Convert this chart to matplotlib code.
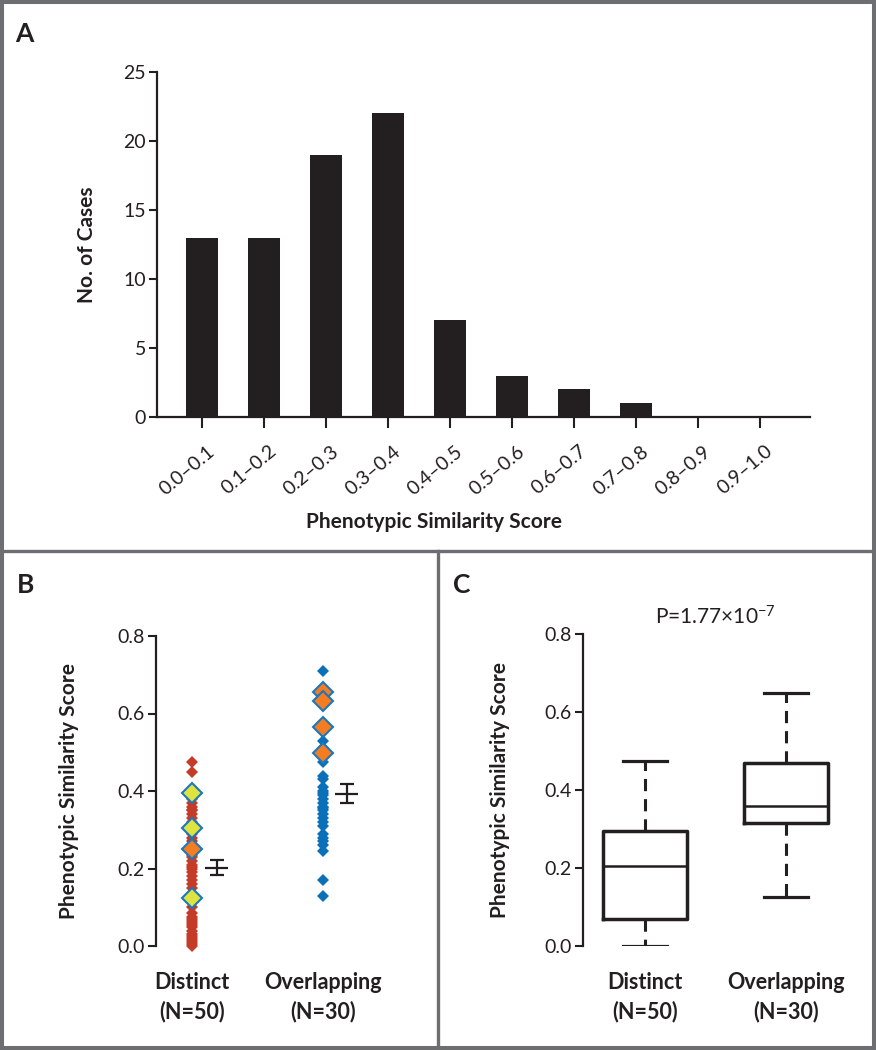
import matplotlib
matplotlib.use('Agg')
import matplotlib.pyplot as plt
import numpy as np
from matplotlib.lines import Line2D
from matplotlib.patches import Rectangle
from matplotlib.transforms import ScaledTranslation

plt.rcParams['font.family'] = ['Lato', 'DejaVu Sans']
plt.rcParams['mathtext.fontset'] = 'custom'
plt.rcParams['mathtext.rm'] = 'Lato'
plt.rcParams['mathtext.default'] = 'regular'

# ---------------- data ----------------
score_bins = ['0.0–0.1', '0.1–0.2', '0.2–0.3', '0.3–0.4', '0.4–0.5',
              '0.5–0.6', '0.6–0.7', '0.7–0.8', '0.8–0.9', '0.9–1.0']
case_counts = [13, 13, 19, 22, 7, 3, 2, 1, 0, 0]

group_labels = ['Distinct\n(N=50)', 'Overlapping\n(N=30)']

distinct_scores = [0.0, 0.005, 0.01, 0.015, 0.02, 0.025, 0.03, 0.04, 0.05, 0.055,
                   0.06, 0.065, 0.07, 0.075, 0.085, 0.10, 0.115, 0.125,
                   0.15, 0.16, 0.17, 0.18, 0.19, 0.20, 0.205, 0.21, 0.22,
                   0.23, 0.235, 0.24, 0.25, 0.26, 0.27, 0.28, 0.29, 0.30, 0.305, 0.31,
                   0.32, 0.33, 0.34, 0.35, 0.35, 0.36, 0.37, 0.38, 0.395, 0.40, 0.45, 0.475]
distinct_yellow = [0.395, 0.305, 0.125]
distinct_orange = [0.25]

overlapping_scores = [0.71, 0.655, 0.633, 0.565, 0.53, 0.51, 0.497, 0.475,
                      0.44, 0.43, 0.41, 0.40, 0.395, 0.39, 0.38, 0.37, 0.36, 0.355,
                      0.35, 0.34, 0.33, 0.32, 0.31, 0.29, 0.28, 0.27, 0.26, 0.245,
                      0.17, 0.13]
overlapping_orange = [0.655, 0.633, 0.565, 0.497]

box_whislo = [0.0, 0.125]
box_q1 = [0.07, 0.315]
box_med = [0.205, 0.36]
box_q3 = [0.295, 0.47]
box_whishi = [0.475, 0.65]
p_text = r'P=1.77×10$^{−7}$'

# ---------------- style ----------------
INK = '#231f20'
RED = '#c43b28'
BLUE = '#0a70b8'
ORANGE = '#f47d22'
YELLOW = '#dde33f'
EDGE = '#1c77bf'
FRAME = '#6d6e71'

W, H = 876, 1050
fig = plt.figure(figsize=(W / 100, H / 100), dpi=100)


def px_axes(l, t, r, b):
    return fig.add_axes([l / W, 1 - b / H, (r - l) / W, (b - t) / H])


def style_axes(ax, bottom=True):
    for s in ['top', 'right']:
        ax.spines[s].set_visible(False)
    ax.spines['left'].set_linewidth(1.6)
    ax.spines['left'].set_color(INK)
    if bottom:
        ax.spines['bottom'].set_linewidth(1.6)
        ax.spines['bottom'].set_color(INK)
    else:
        ax.spines['bottom'].set_visible(False)
    ax.tick_params(axis='y', direction='out', length=6, width=1.5, color=INK,
                   labelsize=14, labelcolor=INK, pad=2)


# ---------------- panel A ----------------
axA = px_axes(157, 72, 810, 417)
xA = np.arange(len(score_bins))
axA.bar(xA, case_counts, width=0.52, color=INK)
axA.set_xlim(-0.726, 9.806)
axA.set_ylim(0, 25)
style_axes(axA)
axA.set_yticks([0, 5, 10, 15, 20, 25])
axA.set_xticks(xA)
axA.set_xticklabels(score_bins, rotation=40, ha='right', va='center',
                    rotation_mode='anchor', fontsize=14, color=INK)
axA.tick_params(axis='x', direction='out', length=8, width=1.5, color=INK, pad=15)
off = ScaledTranslation(10 / 100, 0, fig.dpi_scale_trans)
for lab in axA.get_xticklabels():
    lab.set_transform(lab.get_transform() + off)
axA.set_ylabel('No. of Cases', fontsize=15, fontweight='bold', color=INK)
axA.yaxis.set_label_coords(-0.092, 0.5)
axA.set_xlabel('Phenotypic Similarity Score', fontsize=15, fontweight='bold', color=INK)
axA.xaxis.set_label_coords(0.424, -0.275)

# ---------------- panel B ----------------
axB = px_axes(156, 636, 390, 946)
axB.set_xlim(1 - 36 / 131, 1 + (390 - 192) / 131)
axB.set_ylim(0, 0.8)
style_axes(axB, bottom=False)
axB.set_yticks([0, 0.2, 0.4, 0.6, 0.8])
axB.set_yticklabels(['%.1f' % v for v in [0, 0.2, 0.4, 0.6, 0.8]])
axB.set_xticks([1, 2])
axB.set_xticklabels(group_labels, fontsize=15.5, fontweight='bold', color=INK,
                    linespacing=1.4)
axB.tick_params(axis='x', length=0, pad=19)

axB.plot(np.full(len(distinct_scores), 1.0), distinct_scores, 'D', ms=6.6,
         color=RED, mec=RED, mew=0, clip_on=False)
axB.plot(np.full(len(overlapping_scores), 2.0), overlapping_scores, 'D', ms=6.6,
         color=BLUE, mec=BLUE, mew=0, clip_on=False)
axB.plot(np.full(len(distinct_yellow), 1.0), distinct_yellow, 'D', ms=10.5,
         mfc=YELLOW, mec=EDGE, mew=1.5, ls='none', clip_on=False)
axB.plot(np.full(len(distinct_orange), 1.0), distinct_orange, 'D', ms=10.5,
         mfc=ORANGE, mec=EDGE, mew=1.5, ls='none', clip_on=False)
axB.plot(np.full(len(overlapping_orange), 2.0), overlapping_orange, 'D', ms=10.5,
         mfc=ORANGE, mec=EDGE, mew=1.5, ls='none', clip_on=False)

for xc, vals in [(1.19, distinct_scores), (2.18, overlapping_scores)]:
    v = np.asarray(vals)
    m = v.mean()
    se = v.std(ddof=1) / np.sqrt(len(v))
    axB.errorbar(xc, m, yerr=se, fmt='none', ecolor=INK, elinewidth=1.6,
                 capsize=5, capthick=1.6)
    axB.hlines(m, xc - 0.088, xc + 0.088, color=INK, lw=1.6)

axB.set_ylabel('Phenotypic Similarity Score', fontsize=15, fontweight='bold', color=INK)
axB.yaxis.set_label_coords(-0.33, 0.5)

# ---------------- panel C ----------------
axC = px_axes(583, 634, 850, 946)
axC.set_xlim(1 - 62 / 141, 1 + (850 - 645) / 141)
axC.set_ylim(0, 0.8)
style_axes(axC, bottom=False)
axC.set_yticks([0, 0.2, 0.4, 0.6, 0.8])
axC.set_yticklabels(['%.1f' % v for v in [0, 0.2, 0.4, 0.6, 0.8]])
axC.set_xticks([1, 2])
axC.set_xticklabels(group_labels, fontsize=15.5, fontweight='bold', color=INK,
                    linespacing=1.4)
axC.tick_params(axis='x', length=0, pad=19)

stats = []
for i in range(2):
    stats.append(dict(med=box_med[i], q1=box_q1[i], q3=box_q3[i],
                      whislo=box_whislo[i], whishi=box_whishi[i], fliers=[]))
axC.bxp(stats, positions=[1, 2], widths=84 / 141, capwidths=44 / 141,
        showfliers=False, manage_ticks=False,
        boxprops=dict(color=INK, lw=2.5),
        medianprops=dict(color=INK, lw=1.8),
        whiskerprops=dict(color=INK, lw=2.2, linestyle=(0, (4, 2.6))),
        capprops=dict(color=INK, lw=2.3))
axC.text(1.5, 0.8 * (946 - 617) / 312, p_text, ha='center', va='center',
         fontsize=15, color=INK, clip_on=False)
axC.set_ylabel('Phenotypic Similarity Score', fontsize=15, fontweight='bold', color=INK)
axC.yaxis.set_label_coords(-0.273, 0.5)

# ---------------- frame & panel letters ----------------
fig.add_artist(Rectangle((0, 0), 1, 1, transform=fig.transFigure, fill=False,
                         lw=5.8, ec=FRAME))
fig.add_artist(Line2D([0, 1], [1 - 551 / H, 1 - 551 / H], transform=fig.transFigure,
                      lw=2.4, color=FRAME))
fig.add_artist(Line2D([438 / W, 438 / W], [0, 1 - 551 / H], transform=fig.transFigure,
                      lw=2.4, color=FRAME))
for letter, xp, yp in [('A', 15, 22), ('B', 17, 573), ('C', 453, 573)]:
    fig.text(xp / W, 1 - yp / H, letter, fontsize=19, fontweight='bold',
             color=INK, ha='left', va='top')

fig.savefig('out.png', dpi=100)
